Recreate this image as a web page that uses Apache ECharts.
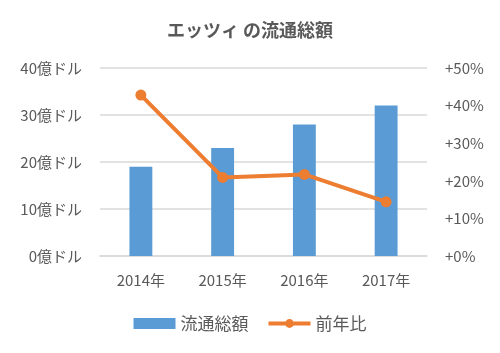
<!DOCTYPE html>
<html><head><meta charset="utf-8">
<script src="https://cdn.jsdelivr.net/npm/echarts@6/dist/echarts.min.js"></script>
<style>html,body{margin:0;padding:0;background:#fff}#c{width:500px;height:353px}</style>
</head><body><div id="c"></div>
<script>
const categories = ['2014年','2015年','2016年','2017年'];
const gmv = [19, 23, 28, 32];
const growth = [42.8, 20.9, 21.7, 14.4];
const leftTicks = [0, 10, 20, 30, 40];
const rightTicks = [0, 10, 20, 30, 40, 50];

const FONT = '"Noto Sans CJK JP", "Noto Sans", sans-serif';
const chart = echarts.init(document.getElementById('c'));
chart.setOption({
  animation: false,
  textStyle: { fontFamily: FONT },
  title: {
    text: 'エッツィ の流通総額', left: 'center', top: 16,
    textStyle: { fontFamily: FONT, fontSize: 18, fontWeight: 'bold', color: '#595959' }
  },
  legend: {
    bottom: 16, left: 'center', itemWidth: 42, itemHeight: 11, itemGap: 18,
    textStyle: { fontFamily: FONT, fontSize: 17, color: '#595959' },
    data: [{ name: '流通総額', icon: 'rect' }, { name: '前年比', lineStyle: { width: 4 } }]
  },
  grid: { left: 100, right: 73, top: 68, bottom: 97 },
  xAxis: {
    type: 'category', data: categories,
    axisLine: { lineStyle: { color: '#d9d9d9', width: 1.5 } },
    axisTick: { show: false },
    axisLabel: { fontFamily: FONT, fontSize: 15, color: '#595959', margin: 17 }
  },
  yAxis: [{
    type: 'value', min: leftTicks[0], max: leftTicks[leftTicks.length - 1], interval: 10,
    axisLine: { show: false }, axisTick: { show: false },
    splitLine: { lineStyle: { color: '#d9d9d9', width: 1.5 } },
    axisLabel: { fontFamily: FONT, fontSize: 15, color: '#595959', margin: 18, formatter: '{value}億ドル' }
  }, {
    type: 'value', min: rightTicks[0], max: rightTicks[rightTicks.length - 1], interval: 10,
    axisLine: { show: false }, axisTick: { show: false }, splitLine: { show: false },
    axisLabel: { fontFamily: FONT, fontSize: 15, color: '#595959', margin: 18, formatter: '+{value}%' }
  }],
  series: [{
    name: '流通総額', type: 'bar', data: gmv, barWidth: '28%',
    itemStyle: { color: '#5B9BD5' }
  }, {
    name: '前年比', type: 'line', yAxisIndex: 1, data: growth,
    symbol: 'circle', symbolSize: 11,
    lineStyle: { color: '#ED7D31', width: 4 },
    itemStyle: { color: '#ED7D31' }
  }]
});
</script></body></html>
